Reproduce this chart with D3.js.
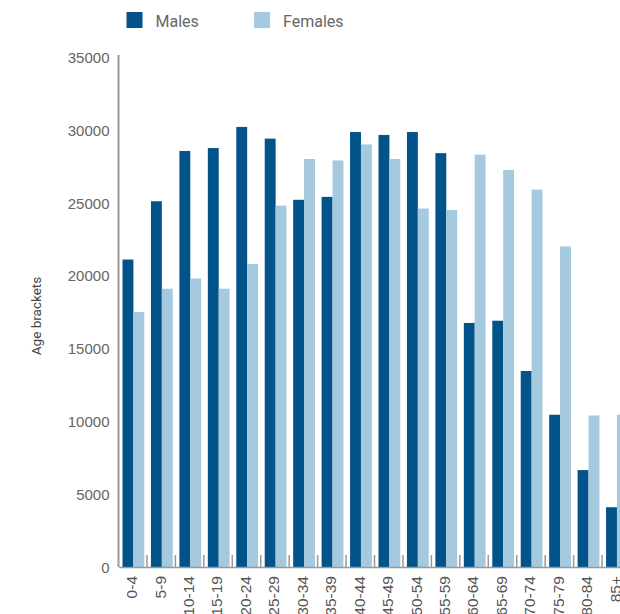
<!DOCTYPE html>
<html>
<head>
<meta charset="utf-8">
<script src="https://cdn.jsdelivr.net/npm/d3@7"></script>
<style>
  html, body { margin: 0; padding: 0; background: #fff; }
  svg { display: block; font-family: Roboto, "Noto Sans", sans-serif; }
</style>
</head>
<body>
<svg id="chart" width="620" height="614"></svg>
<script>
// Population by age bracket
const categories = ["0-4","5-9","10-14","15-19","20-24","25-29","30-34","35-39","40-44",
                    "45-49","50-54","55-59","60-64","65-69","70-74","75-79","80-84","85+"];
const males   = [21100,25100,28550,28750,30200,29400,25200,25400,29850,
                 29650,29850,28400,16750,16900,13450,10450,6650,4100];
const females = [17500,19100,19800,19100,20800,24800,28000,27900,29000,
                 28000,24600,24500,28300,27250,25900,22000,10400,10450];
const yTicks  = [0,5000,10000,15000,20000,25000,30000,35000];
const seriesNames = ["Males","Females"];
const colors = { Males: "#02538a", Females: "#a5cadf" };

const svg = d3.select("#chart");
const plotLeft = 118.5, plotBottom = 567, plotTop = 57, plotRight = 630.5;

const x = d3.scaleBand().domain(categories).range([plotLeft, plotRight]).padding(0);
const xs = d3.scaleBand().domain(seriesNames).range([4, 25.8]).padding(0);
const y = d3.scaleLinear().domain([0, 35000]).range([plotBottom, plotTop]);

const rows = categories.map((c, i) => ({ cat: c, Males: males[i], Females: females[i] }));

// bars
const groups = svg.append("g").selectAll("g").data(rows).join("g")
  .attr("transform", d => `translate(${x(d.cat)},0)`);
groups.selectAll("rect")
  .data(d => seriesNames.map(k => ({ key: k, value: d[k] })))
  .join("rect")
  .attr("x", d => xs(d.key))
  .attr("width", xs.bandwidth())
  .attr("y", d => y(d.value))
  .attr("height", d => y(0) - y(d.value))
  .attr("fill", d => colors[d.key]);

// y axis
const yAxis = svg.append("g").attr("transform", `translate(${plotLeft},0)`)
  .call(d3.axisLeft(y).tickValues(yTicks).tickSize(0).tickPadding(9).tickFormat(d3.format("d")));
yAxis.select(".domain").attr("stroke", "#999").attr("stroke-width", 2)
  .attr("d", `M0,${plotBottom}V${plotTop - 2}`);
yAxis.selectAll("text").attr("fill", "#666").style("font-size", "15px")
  .attr("dy", "0.36em");

// x axis: baseline and separators between brackets
const xAxis = svg.append("g").attr("transform", `translate(0,${plotBottom})`)
  .call(d3.axisBottom(x).tickSize(0).tickPadding(0));
xAxis.select(".domain").attr("stroke", "#999").attr("stroke-width", 1.5);
xAxis.selectAll("text")
  .attr("transform", "rotate(-90)")
  .attr("text-anchor", "end")
  .attr("x", -9)
  .attr("y", -1)
  .attr("dy", "0.35em")
  .attr("fill", "#555")
  .style("font-size", "15.5px");

svg.append("g").selectAll("line")
  .data(categories.slice(1))
  .join("line")
  .attr("x1", d => x(d)).attr("x2", d => x(d))
  .attr("y1", plotBottom).attr("y2", plotBottom - 12)
  .attr("stroke", "#999").attr("stroke-width", 1.5);

// y axis title
svg.append("text")
  .attr("transform", "translate(41,316) rotate(-90)")
  .attr("text-anchor", "middle")
  .attr("fill", "#444")
  .style("font-size", "13.5px")
  .text("Age brackets");

// legend
const legendX = [126.5, 254];
const legend = svg.append("g").selectAll("g").data(seriesNames).join("g")
  .attr("transform", (d, i) => `translate(${legendX[i]},12)`);
legend.append("rect").attr("width", 16).attr("height", 16).attr("fill", d => colors[d]);
legend.append("text").attr("x", 29).attr("y", 14.5)
  .attr("fill", "#666").style("font-size", "16px").text(d => d);
</script>
</body>
</html>
